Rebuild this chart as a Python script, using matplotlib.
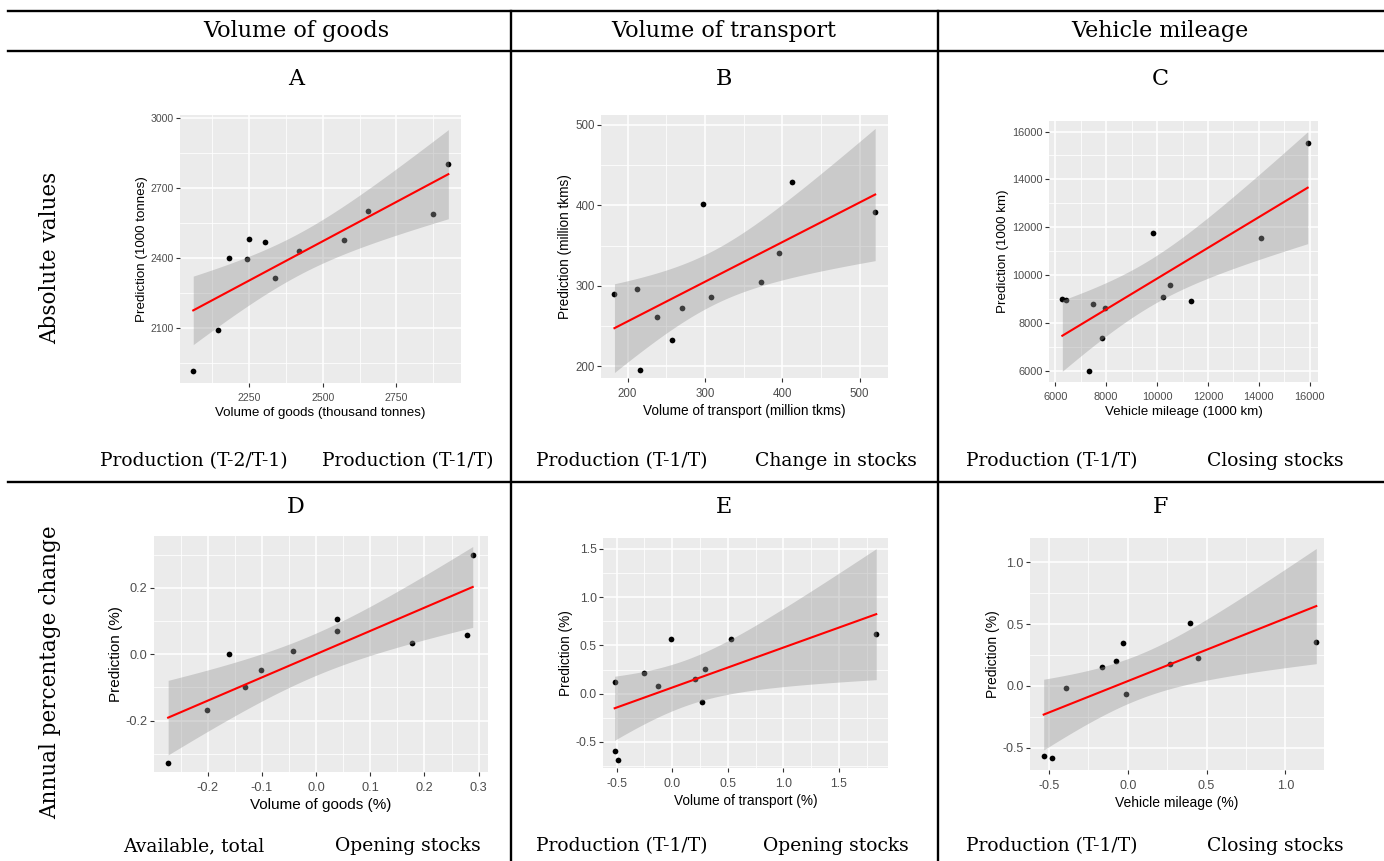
import numpy as np
import matplotlib
matplotlib.use("Agg")
import matplotlib.pyplot as plt
from matplotlib.lines import Line2D
from matplotlib.ticker import FormatStrFormatter

plt.rcParams['axes.unicode_minus'] = False

# ---------------- data ----------------
col_headers = ["Volume of goods", "Volume of transport", "Vehicle mileage"]
row_headers = ["Absolute values", "Annual percentage change"]
panel_letters = ["A", "B", "C", "D", "E", "F"]
bottom_left = ["Production (T-2/T-1)", "Production (T-1/T)", "Production (T-1/T)",
               "Available, total", "Production (T-1/T)", "Production (T-1/T)"]
bottom_right = ["Production (T-1/T)", "Change in stocks", "Closing stocks",
                "Opening stocks", "Opening stocks", "Closing stocks"]

a_x = [2060, 2144, 2182, 2241, 2248, 2305, 2339, 2420, 2572, 2652, 2874, 2926]
a_y = [1914, 2090, 2400, 2397, 2483, 2471, 2314, 2429, 2479, 2601, 2590, 2803]
b_x = [183, 212, 216, 238, 258, 270, 297, 308, 373, 396, 413, 520]
b_y = [290, 296, 196, 261, 233, 272, 402, 286, 305, 341, 429, 392]
c_x = [6275, 6419, 7494, 7324, 7822, 7940, 9853, 10220, 10508, 11321, 14099, 15921]
c_y = [8981, 8939, 8800, 5986, 7379, 8633, 11753, 9092, 9594, 8898, 11558, 15528]
d_x = [-0.273, -0.201, -0.161, -0.131, -0.102, -0.043, 0.039, 0.039, 0.177, 0.278, 0.289]
d_y = [-0.327, -0.168, 0.000, -0.100, -0.047, 0.011, 0.107, 0.071, 0.035, 0.058, 0.298]
e_x = [-0.518, -0.512, -0.485, -0.254, -0.126, -0.012, 0.204, 0.264, 0.291, 0.531, 1.835]
e_y = [0.118, -0.589, -0.686, 0.218, 0.076, 0.565, 0.153, -0.090, 0.260, 0.565, 0.620]
f_x = [-0.534, -0.483, -0.392, -0.163, -0.074, -0.032, -0.013, 0.269, 0.392, 0.445, 1.197]
f_y = [-0.570, -0.586, -0.019, 0.149, 0.200, 0.351, -0.065, 0.181, 0.511, 0.224, 0.359]

a_xticks = [2250, 2500, 2750]
a_yticks = [2100, 2400, 2700, 3000]
b_xticks = [200, 300, 400, 500]
b_yticks = [200, 300, 400, 500]
c_xticks = [6000, 8000, 10000, 12000, 14000, 16000]
c_yticks = [6000, 8000, 10000, 12000, 14000, 16000]
d_xticks = [-0.2, -0.1, 0.0, 0.1, 0.2, 0.3]
d_yticks = [-0.2, 0.0, 0.2]
e_xticks = [-0.5, 0.0, 0.5, 1.0, 1.5]
e_yticks = [-0.5, 0.0, 0.5, 1.0, 1.5]
f_xticks = [-0.5, 0.0, 0.5, 1.0]
f_yticks = [-0.5, 0.0, 0.5, 1.0]

x_titles = ["Volume of goods (thousand tonnes)", "Volume of transport (million tkms)",
            "Vehicle mileage (1000 km)", "Volume of goods (%)",
            "Volume of transport (%)", "Vehicle mileage (%)"]
y_titles = ["Prediction (1000 tonnes)", "Prediction (million tkms)",
            "Prediction (1000 km)", "Prediction (%)", "Prediction (%)", "Prediction (%)"]

# ---------------- layout / style ----------------
W, H = 1384, 861
fig = plt.figure(figsize=(W / 100, H / 100), dpi=100)
SERIF = "DejaVu Serif"
SANS = "Liberation Sans"


def box(l, t, r, b):
    return [l / W, 1 - b / H, (r - l) / W, (b - t) / H]


T_CRIT = {9: 2.262, 10: 2.228}


def lm_fit(x, y, n_grid=80):
    x = np.asarray(x, float)
    y = np.asarray(y, float)
    n = len(x)
    xm = x.mean()
    sxx = ((x - xm) ** 2).sum()
    slope = ((x - xm) * (y - y.mean())).sum() / sxx
    icpt = y.mean() - slope * xm
    resid = y - (icpt + slope * x)
    s = np.sqrt((resid ** 2).sum() / (n - 2))
    xs = np.linspace(x.min(), x.max(), n_grid)
    yh = icpt + slope * xs
    se = s * np.sqrt(1 / n + (xs - xm) ** 2 / sxx)
    t = T_CRIT[n - 2]
    return xs, yh, yh - t * se, yh + t * se


def minors(major, lim):
    major = list(major)
    step = major[1] - major[0]
    cand = [major[0] - step / 2] + [m + step / 2 for m in major]
    return [c for c in cand if lim[0] <= c <= lim[1]]


panels = [
    dict(x=a_x, y=a_y, xt=a_xticks, yt=a_yticks, px=(180, 115, 461, 383),
         xlim=(2015, 2969), ylim=(1864, 3014), fmt='%d', ts=7.6, ls=9.6),
    dict(x=b_x, y=b_y, xt=b_xticks, yt=b_yticks, px=(601, 115, 888, 378),
         xlim=(165.6, 536.6), ylim=(185.5, 512.4), fmt='%d', ts=8.3, ls=9.8),
    dict(x=c_x, y=c_y, xt=c_xticks, yt=c_yticks, px=(1049, 121, 1318, 382),
         xlim=(5751, 16327), ylim=(5526, 16442), fmt='%d', ts=7.9, ls=9.6),
    dict(x=d_x, y=d_y, xt=d_xticks, yt=d_yticks, px=(154, 536, 488, 772),
         xlim=(-0.2991, 0.3172), ylim=(-0.3548, 0.3558), fmt='%.1f', ts=9.2, ls=11),
    dict(x=e_x, y=e_y, xt=e_xticks, yt=e_yticks, px=(603, 538, 888, 768),
         xlim=(-0.623, 1.941), ylim=(-0.77, 1.614), fmt='%.1f', ts=8.7, ls=9.8),
    dict(x=f_x, y=f_y, xt=f_xticks, yt=f_yticks, px=(1030, 538, 1324, 770),
         xlim=(-0.621, 1.246), ylim=(-0.681, 1.197), fmt='%.1f', ts=9.0, ls=10),
]

for i, p in enumerate(panels):
    ax = fig.add_axes(box(*p['px']))
    ax.set_facecolor('#EBEBEB')
    for s in ax.spines.values():
        s.set_visible(False)
    ax.set_xlim(p['xlim'])
    ax.set_ylim(p['ylim'])
    ax.set_xticks(p['xt'])
    ax.set_yticks(p['yt'])
    ax.set_xticks(minors(p['xt'], p['xlim']), minor=True)
    ax.set_yticks(minors(p['yt'], p['ylim']), minor=True)
    ax.xaxis.set_major_formatter(FormatStrFormatter(p['fmt']))
    ax.yaxis.set_major_formatter(FormatStrFormatter(p['fmt']))
    ax.grid(which='major', color='white', lw=1.1)
    ax.grid(which='minor', color='white', lw=0.55)
    ax.set_axisbelow(True)
    ax.tick_params(which='major', length=3, width=0.8, color='#333333',
                   labelcolor='#4D4D4D', labelsize=p['ts'])
    ax.tick_params(axis='x', which='major', pad=4.0)
    ax.tick_params(axis='y', which='major', pad=1.5)
    ax.tick_params(which='minor', length=0)
    for lab in ax.get_xticklabels() + ax.get_yticklabels():
        lab.set_fontfamily(SANS)
    ax.scatter(p['x'], p['y'], s=17, color='black', lw=0, zorder=2)
    xs, yh, lo, hi = lm_fit(p['x'], p['y'])
    ax.fill_between(xs, lo, hi, color='#999999', alpha=0.4, lw=0, zorder=3)
    ax.plot(xs, yh, color='red', lw=1.5, zorder=4)
    ax.set_xlabel(x_titles[i], fontsize=p['ls'], family=SANS, labelpad=3)
    ax.set_ylabel(y_titles[i], fontsize=p['ls'], family=SANS, labelpad=2)

# ---------------- table text ----------------
col_cx = [296, 724, 1160]
for j, t in enumerate(col_headers):
    fig.text(col_cx[j] / W, 1 - 31 / H, t, ha='center', va='center',
             family=SERIF, fontsize=16)
for k, L in enumerate(panel_letters):
    yy = 79 if k < 3 else 507
    fig.text(col_cx[k % 3] / W, 1 - yy / H, L, ha='center', va='center',
             family=SERIF, fontsize=16)

bl_cx = [194, 622, 1052]
br_cx = [408, 836, 1275]
for k in range(6):
    yy = 461 if k < 3 else 846
    fig.text(bl_cx[k % 3] / W, 1 - yy / H, bottom_left[k], ha='center', va='center',
             family=SERIF, fontsize=13.5)
    fig.text(br_cx[k % 3] / W, 1 - yy / H, bottom_right[k], ha='center', va='center',
             family=SERIF, fontsize=13.5)

fig.text(50 / W, 1 - 258 / H, row_headers[0], rotation=90, ha='center', va='center',
         family=SERIF, fontsize=15.5)
fig.text(50 / W, 1 - 672 / H, row_headers[1], rotation=90, ha='center', va='center',
         family=SERIF, fontsize=15.5)

# ---------------- table rules ----------------
def hline(y, x0=8, x1=W):
    fig.add_artist(Line2D([x0 / W, x1 / W], [1 - y / H, 1 - y / H],
                          color='black', lw=1.7, transform=fig.transFigure))


def vline(x, y0=11, y1=H):
    fig.add_artist(Line2D([x / W, x / W], [1 - y0 / H, 1 - y1 / H],
                          color='black', lw=1.7, transform=fig.transFigure))


hline(11)
hline(51)
hline(482)
vline(511)
vline(938)

fig.savefig("out.png", dpi=100, facecolor='white')
